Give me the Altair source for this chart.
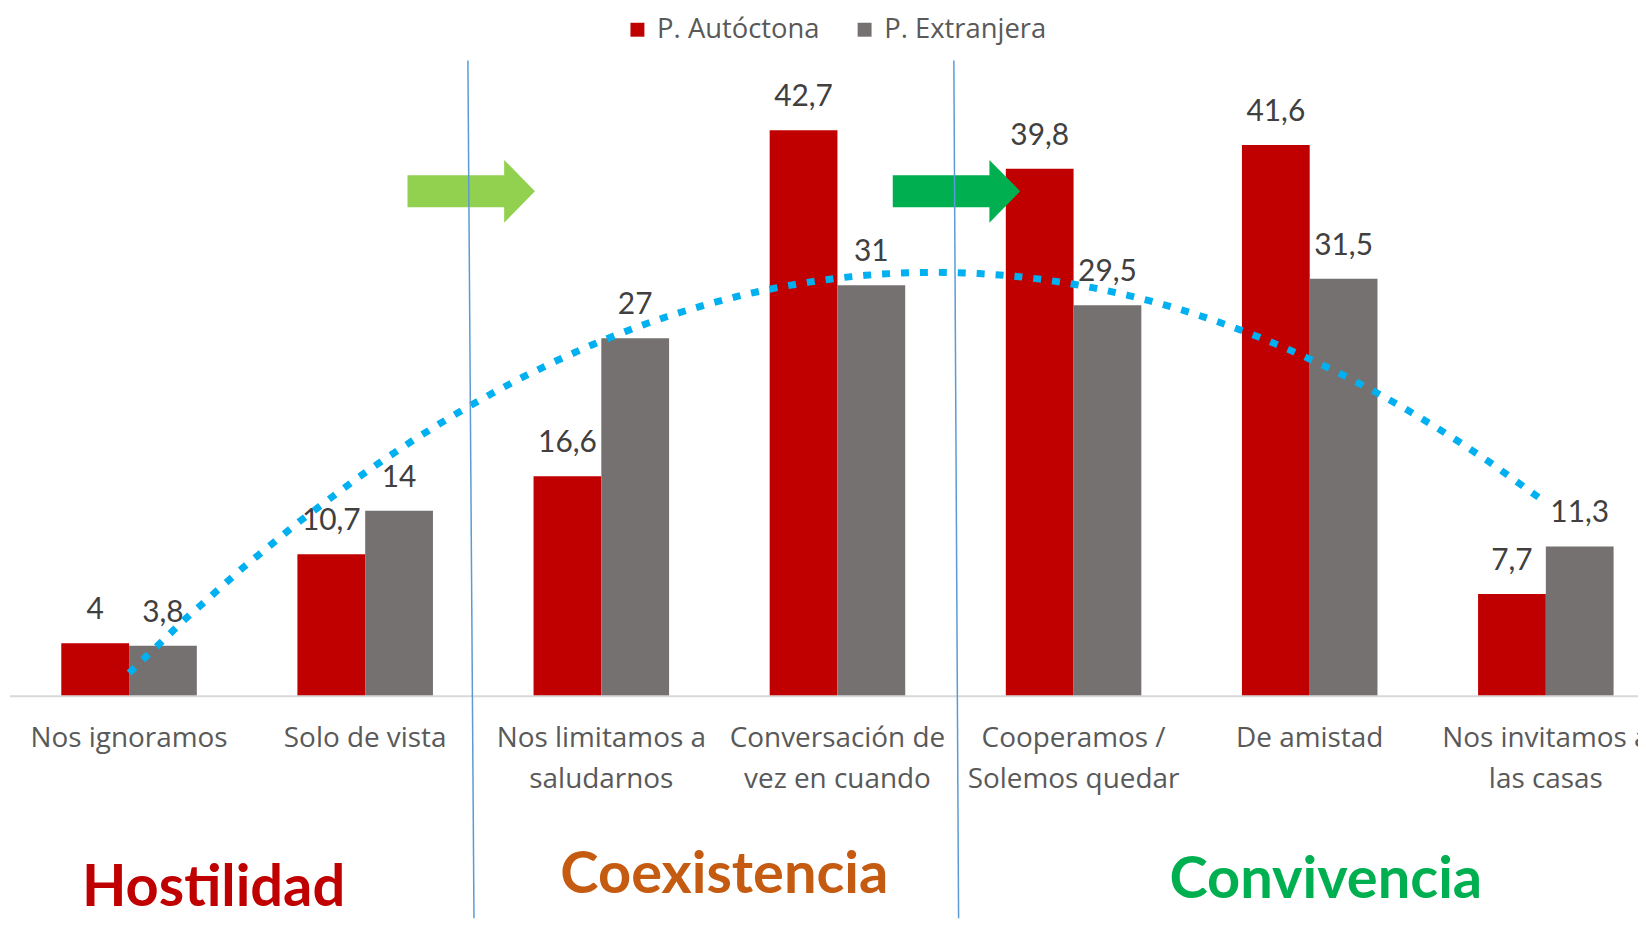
import altair as alt
import pandas as pd

# ---- data ----
categories = [
    "Nos ignoramos",
    "Solo de vista",
    "Nos limitamos a\nsaludarnos",
    "Conversación de\nvez en cuando",
    "Cooperamos /\nSolemos quedar",
    "De amistad",
    "Nos invitamos a\nlas casas",
]
autoctona = [4, 10.7, 16.6, 42.7, 39.8, 41.6, 7.7]
extranjera = [3.8, 14, 27, 31, 29.5, 31.5, 11.3]
series_names = ["P. Autóctona", "P. Extranjera"]
series_colors = ["#C00000", "#767171"]

group_names = ["Hostilidad", "Coexistencia", "Convivencia"]
group_colors = ["#C00000", "#C55A11", "#00B050"]

# ---- annotation placement (in category-index / value units) ----
group_x = [0.358, 2.521, 5.068]
group_y = [-15.86, -14.89, -15.26]
sep_x_top = [1.435, 3.493]
sep_x_bot = [1.462, 3.514]
sep_y_top = 47.97
sep_y_bot = -20.0
arrow_x = [1.449, 3.504]
arrow_y = 38.1
arrow_colors = ["#92D050", "#00B050"]

W, H = 1636, 912
PX_PER_UNIT = 13.3
BAND = 237.0
X0 = 121.5  # view x of first category centre
x_lo = -X0 / BAND
x_hi = (W - X0) / BAND
y_hi = 689 / PX_PER_UNIT
y_lo = (689 - H) / PX_PER_UNIT

xs = alt.Scale(domain=[x_lo, x_hi], nice=False, zero=False)
ys = alt.Scale(domain=[y_lo, y_hi], nice=False, zero=False)

idx = list(range(len(categories)))
wide = pd.DataFrame({"idx": idx, "cat": categories,
                     "autoctona": autoctona, "extranjera": extranjera})
long = pd.DataFrame(
    [{"idx": i, "series": series_names[0], "value": v} for i, v in zip(idx, autoctona)]
    + [{"idx": i, "series": series_names[1], "value": v} for i, v in zip(idx, extranjera)]
)

HALF = 0.287
base = alt.Chart(long).transform_calculate(
    x0=f"datum.series == '{series_names[0]}' ? datum.idx - {HALF} : datum.idx",
    x1=f"datum.series == '{series_names[0]}' ? datum.idx : datum.idx + {HALF}",
    xc=f"datum.series == '{series_names[0]}' ? datum.idx - {HALF/2} : datum.idx + {HALF/2}",
    zero="0",
    lab="replace(toString(datum.value), '.', ',')",
)

bars = base.mark_bar(clip=True).encode(
    x=alt.X("x0:Q", scale=xs, axis=None),
    x2="x1:Q",
    y=alt.Y("value:Q", scale=ys, axis=None),
    y2="zero:Q",
    color=alt.Color(
        "series:N",
        scale=alt.Scale(domain=series_names, range=series_colors),
        legend=alt.Legend(
            orient="none", legendX=618, legendY=6, direction="horizontal",
            title=None, symbolType="square", symbolSize=196,
            symbolStrokeWidth=0, symbolOpacity=1,
            labelFont="Open Sans", labelFontSize=27.5, labelColor="#595959",
            labelOffset=6, columnPadding=31, padding=0, labelLimit=500,
        ),
    ),
)

value_labels = base.mark_text(
    font="Lato", fontSize=30, color="#404040", dy=-24,
    baseline="alphabetic", align="center", clip=True,
).encode(
    x=alt.X("xc:Q", scale=xs, axis=None),
    y=alt.Y("value:Q", scale=ys, axis=None),
    text="lab:N",
)

baseline_rule = alt.Chart(pd.DataFrame({"y": [0]})).mark_rule(
    color="#D9D9D9", strokeWidth=2
).encode(
    y=alt.Y("y:Q", scale=ys, axis=None),
    x=alt.value(2),
    x2=alt.value(W),
)

curve = alt.Chart(wide).transform_regression(
    "idx", "extranjera", method="poly", order=2, extent=[0, 6]
).mark_line(
    color="#00B0F0", strokeWidth=7, strokeDash=[8, 11], clip=True
).encode(
    x=alt.X("idx:Q", scale=xs, axis=None),
    y=alt.Y("extranjera:Q", scale=ys, axis=None),
)

ARROW = "M-2.03,-0.51L1.05,-0.51L1.05,-1L2.03,0L1.05,1L1.05,0.51L-2.03,0.51Z"
arrows = alt.Chart(pd.DataFrame({
    "ax": arrow_x, "ay": [arrow_y] * 2, "col": arrow_colors
})).mark_point(
    shape=ARROW, size=3969, filled=True, opacity=1, strokeWidth=0, clip=True
).encode(
    x=alt.X("ax:Q", scale=xs, axis=None),
    y=alt.Y("ay:Q", scale=ys, axis=None),
    color=alt.Color("col:N", scale=None),
)

separators = alt.Chart(pd.DataFrame({
    "xt": sep_x_top, "xb": sep_x_bot,
    "yt": [sep_y_top] * 2, "yb": [sep_y_bot] * 2,
})).mark_rule(color="#5B9BD5", strokeWidth=1.5, clip=True).encode(
    x=alt.X("xt:Q", scale=xs, axis=None),
    x2="xb:Q",
    y=alt.Y("yt:Q", scale=ys, axis=None),
    y2="yb:Q",
)

cat_labels = alt.Chart(wide).mark_text(
    font="Open Sans", fontSize=28, color="#595959", lineBreak="\n",
    lineHeight=41, baseline="alphabetic", align="center",
).encode(
    x=alt.X("idx:Q", scale=xs, axis=None),
    y=alt.value(740),
    text="cat:N",
)

group_labels = alt.Chart(pd.DataFrame({
    "name": group_names, "col": group_colors, "gx": group_x, "gy": group_y
})).mark_text(
    font="Lato", fontWeight="bold", fontSize=58,
    baseline="alphabetic", align="center",
).encode(
    x=alt.X("gx:Q", scale=xs, axis=None),
    y=alt.Y("gy:Q", scale=ys, axis=None),
    text="name:N",
    color=alt.Color("col:N", scale=None),
)

chart = alt.layer(
    bars, baseline_rule, value_labels, curve, arrows, separators,
    cat_labels, group_labels,
).properties(
    width=W, height=H,
    autosize=alt.AutoSizeParams(type="none"),
    padding=0,
).configure_view(strokeWidth=0)

chart.save("out.html", embed_options={"renderer": "svg", "actions": False})
